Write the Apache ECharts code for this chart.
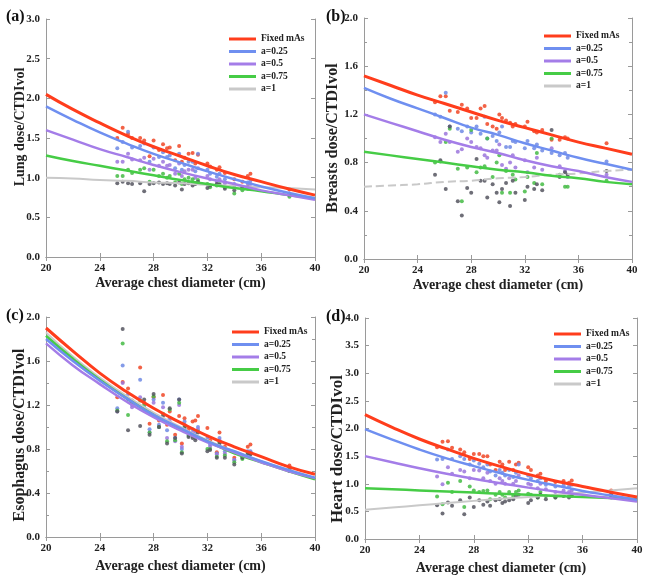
<!DOCTYPE html>
<html>
<head>
<meta charset="utf-8">
<script src="https://cdn.jsdelivr.net/npm/echarts@6/dist/echarts.min.js"></script>
<style>html,body{margin:0;padding:0;background:#fff}#c{width:649px;height:584px}</style>
</head>
<body>
<div id="c"></div>
<script>
// ---------- DATA ----------
const seriesNames = ['Fixed mAs', 'a=0.25', 'a=0.5', 'a=0.75', 'a=1'];
const xTicks = [20, 24, 28, 32, 36, 40];
const curveX = [20, 22, 24, 26, 28, 30, 32, 34, 36, 38, 40];
// patient average chest diameters (cm)
const patientX = [25.3, 25.7, 26.1, 26.4, 27.0, 27.3, 27.7, 28.0, 28.4, 28.7, 29.0, 29.2, 29.6, 29.9, 30.1, 30.3, 30.6, 30.9, 31.1, 31.3, 32.0, 32.2, 32.7, 32.9, 33.3, 34.0, 34.6, 35.0, 35.2, 38.1];

// (a) Lung
const lungCurveFixed = [2.05, 1.86, 1.69, 1.53, 1.39, 1.27, 1.15, 1.04, 0.95, 0.86, 0.78];
const lungCurve025 = [1.90, 1.73, 1.57, 1.43, 1.30, 1.19, 1.08, 0.98, 0.89, 0.81, 0.74];
const lungCurve05 = [1.60, 1.48, 1.36, 1.26, 1.16, 1.07, 0.99, 0.92, 0.84, 0.78, 0.72];
const lungCurve075 = [1.28, 1.21, 1.15, 1.09, 1.03, 0.97, 0.92, 0.87, 0.83, 0.78, 0.74];
const lungCurve1 = [1.00, 0.99, 0.97, 0.96, 0.94, 0.93, 0.91, 0.90, 0.88, 0.87, 0.85];
const lungPtsFixed = [1.50, 1.63, 1.55, 1.50, 1.50, 1.47, 1.27, 1.47, 1.35, 1.42, 1.37, 1.38, 1.22, 1.40, 1.20, 1.25, 1.30, 1.31, 1.18, 1.29, 1.18, 1.14, 1.10, 1.13, 1.06, 0.98, 0.95, 1.02, 1.05, 0.85];
const lungPts025 = [1.37, 1.45, 1.58, 1.38, 1.40, 1.43, 1.20, 1.38, 1.26, 1.32, 1.26, 1.28, 1.12, 1.30, 1.10, 1.16, 1.20, 1.20, 1.08, 1.30, 1.10, 1.05, 1.01, 1.05, 0.98, 0.92, 0.88, 0.94, 0.96, 0.80];
const lungPts05 = [1.20, 1.20, 1.30, 1.23, 1.22, 1.25, 1.10, 1.24, 1.15, 1.20, 1.15, 1.16, 1.05, 1.18, 1.02, 1.08, 1.10, 1.10, 1.00, 1.12, 1.02, 0.98, 0.95, 0.98, 0.93, 0.88, 0.86, 0.90, 0.92, 0.78];
const lungPts075 = [1.02, 1.02, 1.10, 1.06, 1.10, 1.12, 0.95, 1.10, 1.02, 1.05, 1.00, 1.02, 0.94, 1.05, 0.92, 0.98, 1.00, 0.98, 0.93, 0.97, 0.92, 0.88, 0.90, 0.92, 0.88, 0.80, 0.84, 0.86, 0.87, 0.76];
const lungPts1 = [0.93, 0.95, 0.93, 0.92, 0.93, 0.83, 0.92, 0.93, 0.94, 0.92, 0.93, 0.92, 0.90, 0.94, 0.85, 0.92, 0.93, 0.90, 0.92, 0.95, 0.87, 0.90, 0.92, 0.91, 0.86, 0.84, 0.88, 0.88, 0.87, 0.78];

// (b) Breasts
const breastCurveFixed = [1.52, 1.44, 1.36, 1.29, 1.22, 1.15, 1.09, 1.03, 0.97, 0.92, 0.87];
const breastCurve025 = [1.42, 1.33, 1.25, 1.17, 1.09, 1.03, 0.96, 0.90, 0.84, 0.79, 0.74];
const breastCurve05 = [1.20, 1.13, 1.06, 0.99, 0.93, 0.88, 0.82, 0.77, 0.73, 0.68, 0.64];
const breastCurve075 = [0.89, 0.86, 0.83, 0.80, 0.77, 0.74, 0.72, 0.69, 0.67, 0.64, 0.62];
const breastCurve1 = [0.60, 0.61, 0.62, 0.64, 0.65, 0.67, 0.68, 0.70, 0.71, 0.73, 0.74];
const breastPtsFixed = [1.30, 1.35, 1.35, 1.23, 1.22, 1.28, 1.25, 1.17, 1.17, 1.25, 1.27, 1.12, 1.10, 1.08, 1.20, 1.17, 1.15, 1.13, 1.10, 1.12, 1.10, 1.14, 1.06, 1.05, 1.07, 0.99, 0.99, 1.01, 1.00, 0.96];
const breastPts025 = [1.20, 1.18, 1.38, 1.10, 1.08, 1.06, 1.10, 1.05, 1.10, 1.04, 1.18, 1.00, 1.02, 0.98, 1.05, 1.10, 0.93, 0.93, 0.98, 0.97, 0.92, 0.98, 0.92, 0.95, 0.90, 0.88, 0.86, 0.88, 0.84, 0.81];
const breastPts05 = [1.01, 0.97, 1.04, 0.97, 0.89, 0.91, 1.00, 0.97, 0.93, 0.92, 0.86, 0.84, 0.90, 0.90, 0.95, 0.78, 0.75, 0.80, 0.86, 0.76, 0.82, 0.72, 0.76, 0.84, 0.74, 0.92, 0.77, 0.73, 0.68, 0.70];
const breastPts075 = [0.80, 0.81, 0.97, 1.08, 0.75, 0.48, 0.76, 1.07, 0.72, 0.76, 0.77, 1.00, 0.68, 0.80, 0.86, 0.55, 0.73, 0.55, 0.70, 0.66, 0.56, 0.68, 0.63, 0.88, 0.62, 1.00, 0.70, 0.60, 0.60, 0.65];
const breastPts1 = [0.70, 0.82, 0.58, 1.10, 0.48, 0.36, 0.59, 0.55, 0.83, 0.65, 0.65, 0.51, 0.62, 0.55, 0.47, 0.58, 0.63, 0.44, 0.65, 0.55, 0.49, 0.60, 0.58, 0.62, 0.57, 1.07, 0.68, 0.72, 0.70, 0.73];

// (c) Esophagus
const esoCurveFixed = [1.90, 1.69, 1.49, 1.32, 1.17, 1.04, 0.92, 0.82, 0.73, 0.64, 0.57];
const esoCurve025 = [1.80, 1.60, 1.42, 1.26, 1.11, 0.99, 0.87, 0.78, 0.69, 0.61, 0.54];
const esoCurve05 = [1.76, 1.56, 1.39, 1.23, 1.09, 0.97, 0.86, 0.77, 0.68, 0.60, 0.535];
const esoCurve075 = [1.83, 1.62, 1.43, 1.26, 1.11, 0.98, 0.87, 0.76, 0.68, 0.60, 0.525];
const esoCurve1 = [1.86, 1.64, 1.45, 1.28, 1.13, 1.00, 0.88, 0.78, 0.69, 0.61, 0.535];
const esoPtsFixed = [1.27, 1.41, 1.35, 1.24, 1.54, 1.22, 1.03, 1.27, 1.06, 1.29, 1.02, 1.14, 0.93, 1.10, 0.85, 1.08, 0.98, 1.05, 1.06, 1.10, 0.99, 0.88, 0.77, 0.95, 0.82, 0.72, 0.74, 0.82, 0.84, 0.65];
const esoPts025 = [1.17, 1.56, 1.30, 1.20, 1.43, 1.18, 0.98, 1.25, 1.02, 1.22, 0.97, 1.08, 0.90, 1.25, 0.80, 1.05, 0.95, 0.98, 0.95, 1.00, 0.90, 0.84, 0.76, 0.90, 0.78, 0.70, 0.73, 0.78, 0.78, 0.62];
const esoPts05 = [1.14, 1.40, 1.25, 1.18, 1.27, 1.15, 0.95, 1.22, 1.00, 1.18, 0.90, 1.05, 0.87, 1.20, 0.82, 1.02, 0.93, 0.95, 0.92, 0.98, 0.88, 0.82, 0.75, 0.88, 0.76, 0.70, 0.72, 0.77, 0.77, 0.62];
const esoPts075 = [1.15, 1.76, 1.11, 1.22, 1.24, 1.20, 0.95, 1.28, 1.00, 1.12, 0.87, 1.16, 0.88, 1.22, 0.77, 1.00, 0.92, 0.92, 0.90, 0.96, 0.80, 0.80, 0.73, 0.86, 0.74, 0.68, 0.71, 0.76, 0.76, 0.61];
const esoPts1 = [1.14, 1.89, 0.97, 1.23, 1.01, 1.25, 0.93, 1.30, 1.00, 1.10, 0.85, 1.17, 0.90, 1.25, 0.76, 0.99, 0.91, 0.90, 0.88, 0.95, 0.78, 0.79, 0.72, 0.85, 0.72, 0.66, 0.72, 0.75, 0.75, 0.60];

// (d) Heart
const heartCurveFixed = [2.25, 2.02, 1.81, 1.63, 1.46, 1.31, 1.17, 1.05, 0.95, 0.85, 0.76];
const heartCurve025 = [1.99, 1.80, 1.62, 1.46, 1.32, 1.19, 1.07, 0.97, 0.87, 0.79, 0.71];
const heartCurve05 = [1.50, 1.39, 1.28, 1.18, 1.09, 1.01, 0.93, 0.86, 0.80, 0.74, 0.68];
const heartCurve075 = [0.92, 0.90, 0.88, 0.86, 0.84, 0.82, 0.80, 0.78, 0.76, 0.74, 0.72];
const heartCurve1 = [0.53, 0.57, 0.61, 0.65, 0.69, 0.73, 0.76, 0.80, 0.84, 0.88, 0.92];
const heartPtsFixed = [1.66, 1.76, 1.77, 1.65, 1.62, 1.57, 1.45, 1.54, 1.54, 1.50, 1.50, 1.35, 1.25, 1.40, 1.35, 1.25, 1.40, 1.25, 1.35, 1.38, 1.30, 1.25, 1.15, 1.18, 1.05, 1.03, 1.05, 1.02, 1.06, 0.88];
const heartPts025 = [1.44, 1.45, 1.62, 1.45, 1.50, 1.45, 1.35, 1.42, 1.36, 1.30, 1.35, 1.22, 1.15, 1.25, 1.20, 1.15, 1.25, 1.12, 1.20, 1.35, 1.15, 1.10, 1.05, 1.10, 0.98, 0.95, 0.97, 0.95, 0.98, 0.82];
const heartPts05 = [1.13, 0.99, 1.30, 1.18, 1.25, 1.22, 1.10, 1.25, 1.24, 1.10, 1.20, 1.05, 1.00, 1.10, 1.05, 1.00, 1.10, 1.00, 1.05, 1.15, 1.00, 0.98, 0.92, 1.00, 0.90, 0.85, 0.88, 0.85, 0.88, 0.78];
const heartPts075 = [0.77, 0.63, 1.02, 0.85, 1.05, 0.58, 0.95, 0.88, 0.85, 0.87, 0.88, 0.72, 0.80, 0.85, 0.80, 0.75, 0.85, 0.78, 0.85, 0.88, 0.82, 0.80, 0.75, 0.85, 0.78, 0.75, 0.80, 0.78, 0.80, 0.75];
const heartPts1 = [0.61, 0.46, 0.66, 0.60, 0.70, 0.45, 0.75, 0.58, 0.70, 0.62, 0.68, 0.60, 0.70, 0.72, 0.65, 0.68, 0.70, 0.72, 0.78, 0.80, 0.65, 0.70, 0.75, 0.80, 0.72, 0.75, 0.78, 0.75, 0.78, 0.80];

// ---------- STYLE ----------
const FONT = 'Liberation Serif';
const lineColors = ['#ff3d1c', '#6f8ff0', '#a47de8', '#46cc46', '#c9c9c9'];
const ptColors = ['#f04626', '#6f89e4', '#9b76dc', '#44bb44', '#55555f'];
const lineWidths = [3, 2.5, 2.5, 2.5, 2];

const panels = [
  { label: '(a)', yName: 'Lung dose/CTDIvol', yNamePos: [20, 127], yNameSize: 14, ymax: 3, yint: 0.5, minor: false,
    grid: { left: 46, top: 19, right: 334, bottom: 327 }, lab: { left: 6, top: 9 }, leg: { left: 229, top: 33 }, xGap: 19,
    curves: [lungCurveFixed, lungCurve025, lungCurve05, lungCurve075, lungCurve1],
    pts: [lungPtsFixed, lungPts025, lungPts05, lungPts075, lungPts1], grayDash: false },
  { label: '(b)', yName: 'Breasts dose/CTDIvol', yNamePos: [333, 138], yNameSize: 16, ymax: 2, yint: 0.4, minor: true,
    grid: { left: 364, top: 18, right: 17, bottom: 325 }, lab: { left: 326, top: 9 }, leg: { left: 544, top: 30 }, xGap: 19,
    curves: [breastCurveFixed, breastCurve025, breastCurve05, breastCurve075, breastCurve1],
    pts: [breastPtsFixed, breastPts025, breastPts05, breastPts075, breastPts1], grayDash: true },
  { label: '(c)', yName: 'Esophagus dose/CTDIvol', yNamePos: [20, 435], yNameSize: 16, ymax: 2, yint: 0.4, minor: true,
    grid: { left: 46, top: 317, right: 334, bottom: 47 }, lab: { left: 6, top: 308 }, leg: { left: 232, top: 326 }, xGap: 22,
    curves: [esoCurveFixed, esoCurve025, esoCurve05, esoCurve075, esoCurve1],
    pts: [esoPtsFixed, esoPts025, esoPts05, esoPts075, esoPts1], grayDash: false },
  { label: '(d)', yName: 'Heart dose/CTDIvol', yNamePos: [338, 449], yNameSize: 17, ymax: 4, yint: 0.5, minor: false,
    grid: { left: 365, top: 318, right: 12, bottom: 45 }, lab: { left: 326, top: 309 }, leg: { left: 554, top: 328 }, xGap: 22,
    curves: [heartCurveFixed, heartCurve025, heartCurve05, heartCurve075, heartCurve1],
    pts: [heartPtsFixed, heartPts025, heartPts05, heartPts075, heartPts1], grayDash: false }
];

const axisLineStyle = { color: '#9a9a9a', width: 1 };
const labelStyle = { fontFamily: FONT, fontWeight: 'bold', fontSize: 11, color: '#222' };
const nameStyle = { fontFamily: FONT, fontWeight: 'bold', fontSize: 14, color: '#222' };

const grids = [], xAxes = [], yAxes = [], series = [], titles = [], legends = [], graphics = [];

panels.forEach((p, i) => {
  grids.push(p.grid);
  titles.push({ text: p.label, left: p.lab.left, top: p.lab.top, padding: 0,
    textStyle: { fontFamily: FONT, fontWeight: 'bold', fontSize: 16, color: '#111' } });
  legends.push({ orient: 'vertical', left: p.leg.left, top: p.leg.top, padding: 0,
    itemWidth: 27, itemHeight: 3, itemGap: 0.5, icon: 'rect',
    textStyle: Object.assign({}, labelStyle, { lineHeight: 12, fontSize: 9.5 }),
    data: seriesNames.slice(), selectedMode: false });
  graphics.push({ type: 'text', x: p.yNamePos[0], y: p.yNamePos[1], rotation: Math.PI / 2, silent: true,
    style: { text: p.yName, fill: '#222', font: 'bold ' + p.yNameSize + 'px "' + FONT + '"',
      align: 'center', verticalAlign: 'middle' } });
  const xi = xAxes.length;
  xAxes.push({ gridIndex: i, type: 'value', min: xTicks[0], max: xTicks[xTicks.length - 1], interval: 4,
    name: 'Average chest diameter (cm)', nameLocation: 'middle', nameGap: p.xGap, nameTextStyle: nameStyle,
    axisLine: { lineStyle: axisLineStyle }, axisTick: { inside: true, length: 4, lineStyle: axisLineStyle },
    axisLabel: Object.assign({ margin: 6 }, labelStyle), splitLine: { show: false } });
  xAxes.push({ gridIndex: i, type: 'value', position: 'top', min: xTicks[0], max: xTicks[xTicks.length - 1], interval: 4,
    axisLine: { lineStyle: axisLineStyle }, axisTick: { inside: true, length: 4, lineStyle: axisLineStyle },
    axisLabel: { show: false }, splitLine: { show: false } });
  const yi = yAxes.length;
  const minorTick = { show: p.minor, splitNumber: 2, length: 3, lineStyle: axisLineStyle };
  yAxes.push({ gridIndex: i, type: 'value', min: 0, max: p.ymax, interval: p.yint,
    axisLine: { lineStyle: axisLineStyle }, axisTick: { inside: true, length: 4, lineStyle: axisLineStyle },
    minorTick: minorTick,
    axisLabel: Object.assign({ margin: 6, formatter: v => v.toFixed(1) }, labelStyle), splitLine: { show: false } });
  yAxes.push({ gridIndex: i, type: 'value', position: 'right', min: 0, max: p.ymax, interval: p.yint,
    axisLine: { lineStyle: axisLineStyle }, axisTick: { inside: true, length: 4, lineStyle: axisLineStyle },
    minorTick: minorTick, axisLabel: { show: false }, splitLine: { show: false } });

  // scatter points
  p.pts.forEach((arr, k) => {
    series.push({ type: 'scatter', name: seriesNames[k] + ' pts', xAxisIndex: xi, yAxisIndex: yi,
      symbolSize: 4, itemStyle: { color: ptColors[k], opacity: 0.85 }, z: 2, silent: true,
      data: patientX.map((x, j) => [x, arr[j]]) });
  });
  // fitted curves (gray first so coloured curves sit on top)
  [4, 3, 2, 1, 0].forEach(k => {
    series.push({ type: 'line', name: seriesNames[k], xAxisIndex: xi, yAxisIndex: yi,
      smooth: true, showSymbol: false, symbol: 'none', z: 3 + (4 - k) * 0.1, silent: true,
      color: lineColors[k],
      lineStyle: { color: lineColors[k], width: lineWidths[k], type: (k === 4 && p.grayDash) ? 'dashed' : 'solid' },
      data: curveX.map((x, j) => [x, p.curves[k][j]]) });
  });
});

const chart = echarts.init(document.getElementById('c'), null, { renderer: 'canvas' });
chart.setOption({
  backgroundColor: '#ffffff',
  animation: false,
  title: titles,
  legend: legends,
  grid: grids,
  xAxis: xAxes,
  yAxis: yAxes,
  graphic: graphics,
  series: series
});
</script>
</body>
</html>
